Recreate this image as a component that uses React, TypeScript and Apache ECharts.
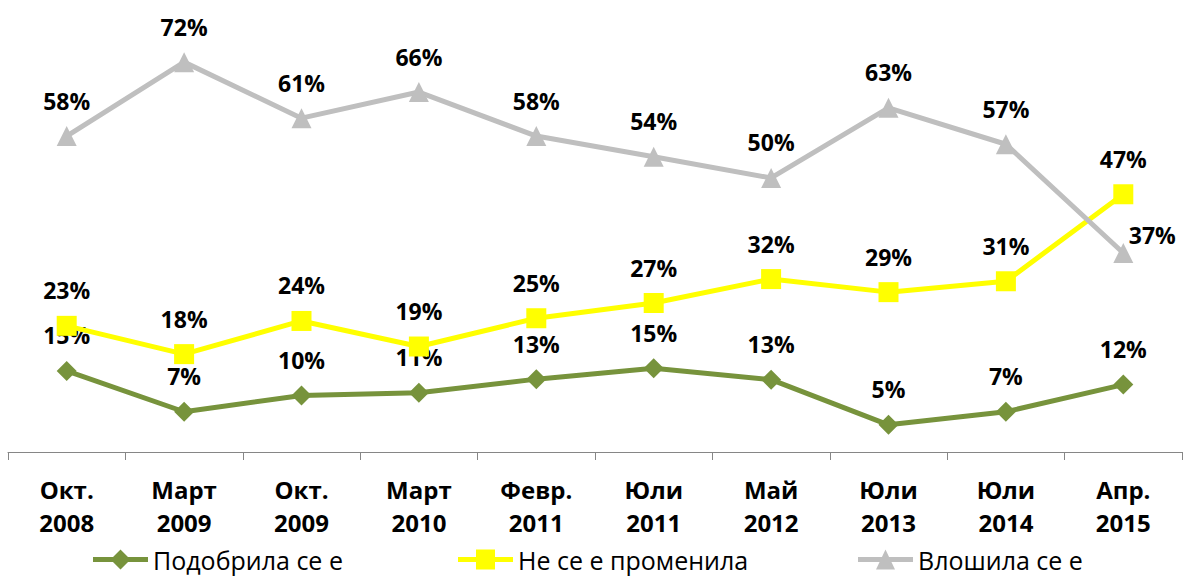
import React, { useEffect, useRef } from "react";
import * as echarts from "echarts";

const categories = [
  "Окт.\n2008",
  "Март\n2009",
  "Окт.\n2009",
  "Март\n2010",
  "Февр.\n2011",
  "Юли\n2011",
  "Май\n2012",
  "Юли\n2013",
  "Юли\n2014",
  "Апр.\n2015",
];

const seriesNames = ["Подобрила се е", "Не се е променила", "Влошила се е"];

const improved = [14.9, 7.4, 10.4, 10.9, 13.4, 15.4, 13.3, 5.0, 7.4, 12.4];
const unchanged = [23.2, 18.0, 24.1, 19.4, 24.6, 27.4, 31.8, 29.4, 31.4, 47.4];
const worsened = [58.1, 71.7, 61.4, 66.2, 58.1, 54.3, 50.4, 63.3, 56.6, 36.6];

const colors = ["#77933C", "#FFFF00", "#BFBFBF"];
const symbols = ["diamond", "rect", "triangle"];

const legendIcons = [
  "path://M0,7.5 H55 V12.5 H0 Z M27.5,0 L37.5,10 L27.5,20 L17.5,10 Z",
  "path://M0,7.5 H55 V12.5 H0 Z M18,0 H37 V20 H18 Z",
  "path://M0,7.5 H55 V12.5 H0 Z M27.5,0 L37,20 L18,20 Z",
];

const FONT = "'Open Sans', 'Noto Sans', sans-serif";

export default function App() {
  const ref = useRef<HTMLDivElement>(null);

  useEffect(() => {
    if (!ref.current) return;
    const chart = echarts.init(ref.current, null, { renderer: "svg" });

    const labelBase = {
      show: true,
      position: "top",
      distance: 14,
      color: "#000",
      fontFamily: FONT,
      fontWeight: "bold",
      fontSize: 23,
      formatter: (p: any) => Math.round(p.value) + "%",
    };

    const dataSets = [improved, unchanged, worsened];
    const series = dataSets.map((d, i) => ({
      name: seriesNames[i],
      type: "line",
      data: d.map((v, j) => {
        if (i === 2 && j === d.length - 1) {
          return { value: v, label: { offset: [29, 18] } };
        }
        return v;
      }),
      symbol: symbols[i],
      symbolSize: 20,
      showAllSymbol: true,
      lineStyle: { color: colors[i], width: 5 },
      itemStyle: { color: colors[i] },
      label: labelBase,
      z: 2 + i,
    }));

    const legendLefts = [93, 458, 858];
    const legend = seriesNames.map((n, i) => ({
      data: [
        {
          name: n,
          icon: legendIcons[i],
          itemStyle: { color: colors[i], borderWidth: 0 },
        },
      ],
      left: legendLefts[i],
      top: 547,
      padding: 0,
      itemWidth: 55,
      itemHeight: 20,
      itemGap: 5,
      textStyle: {
        color: "#000",
        fontFamily: FONT,
        fontSize: 25,
        lineHeight: 24,
        padding: [0, 0, 0, 0],
      },
    }));

    chart.setOption({
      animation: false,
      backgroundColor: "#fff",
      grid: { left: 8, right: 1, top: 17, bottom: 124 },
      legend,
      xAxis: {
        type: "category",
        data: categories,
        boundaryGap: true,
        axisLine: { show: true, lineStyle: { color: "#868686", width: 1 } },
        axisTick: {
          show: true,
          length: 8,
          interval: 0,
          lineStyle: { color: "#868686", width: 1 },
        },
        axisLabel: {
          interval: 0,
          margin: 21,
          color: "#000",
          fontFamily: FONT,
          fontWeight: "bold",
          fontSize: 24,
          lineHeight: 33,
        },
      },
      yAxis: {
        type: "value",
        min: 0,
        max: 80,
        show: false,
        splitLine: { show: false },
      },
      series,
    });

    return () => chart.dispose();
  }, []);

  return (
    <div
      ref={ref}
      style={{ position: "fixed", left: 0, top: 0, width: 1183, height: 576 }}
    />
  );
}
